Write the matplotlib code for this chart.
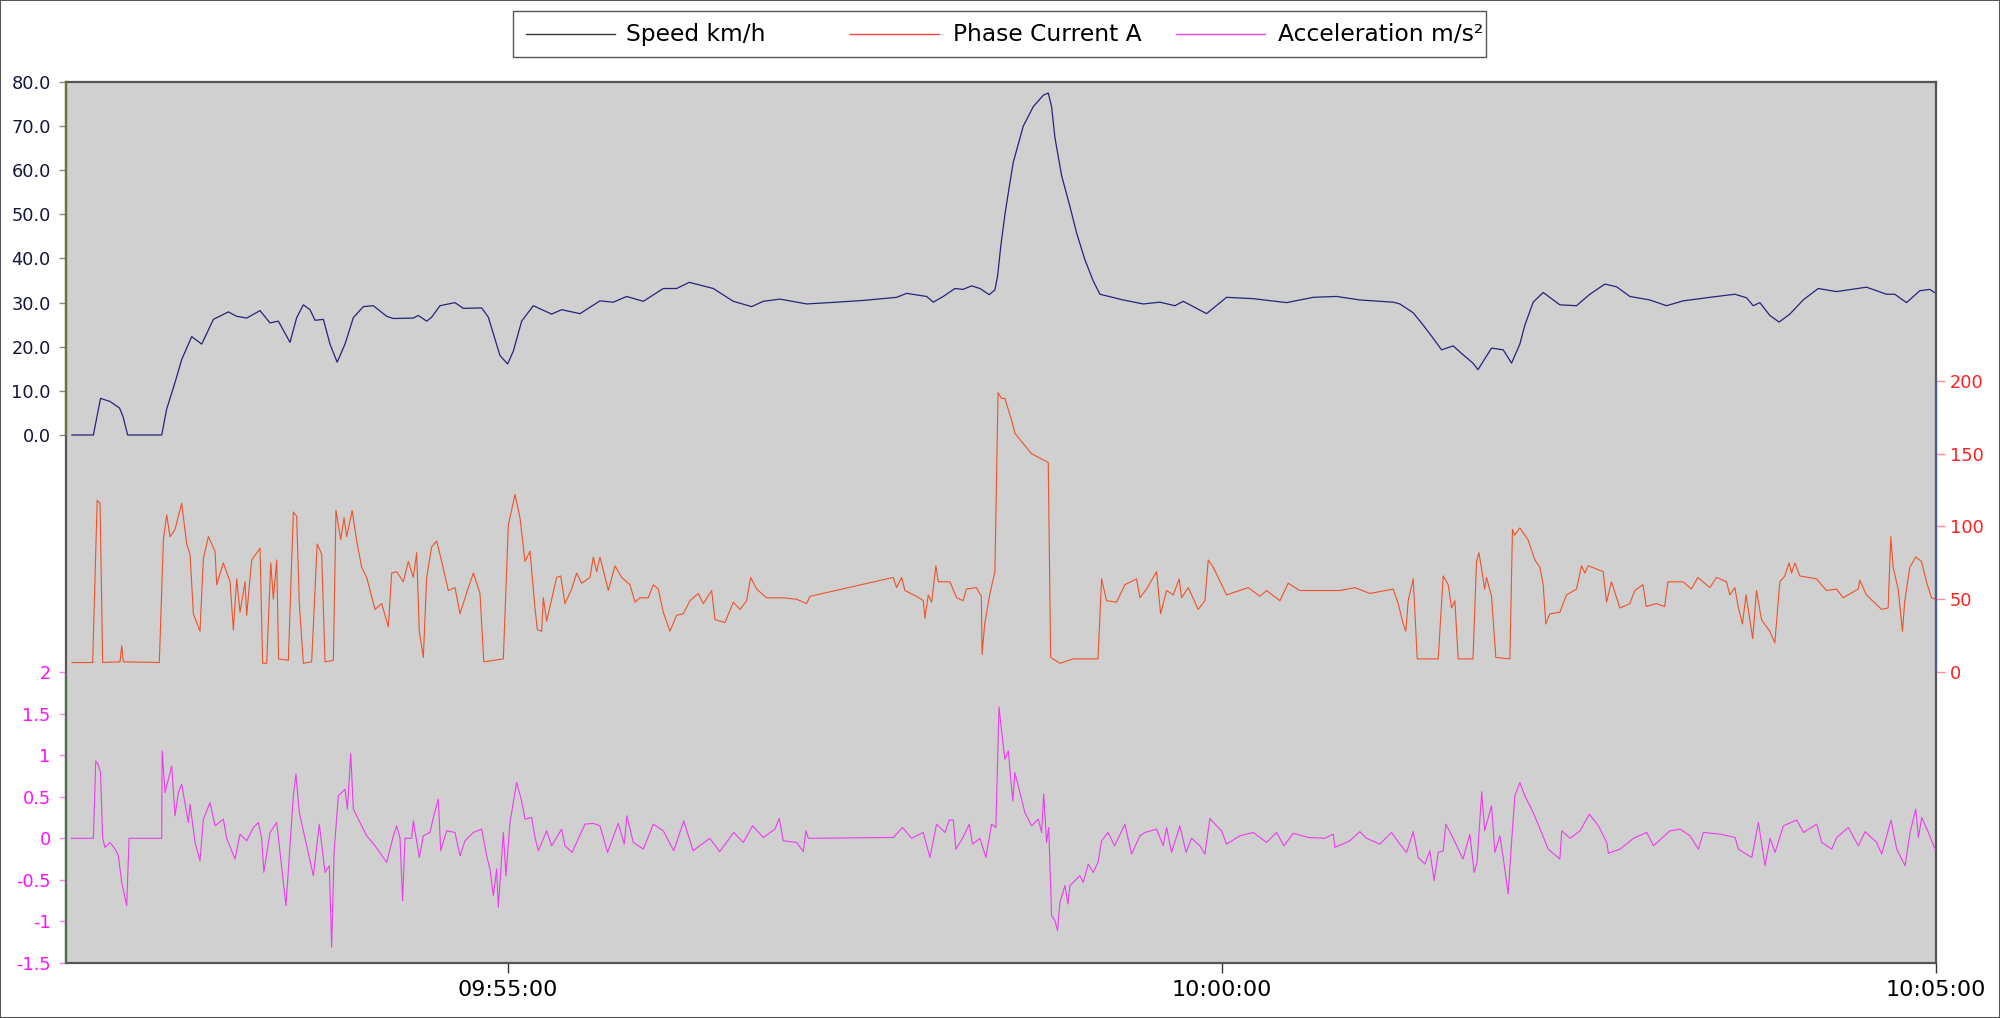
import matplotlib
matplotlib.use('Agg')
import matplotlib.pyplot as plt
import matplotlib.dates as mdates
import matplotlib.transforms as mtrans
from matplotlib.lines import Line2D
from matplotlib.patches import Rectangle
from matplotlib.ticker import FixedLocator, FuncFormatter
from datetime import datetime, timedelta

# ---------------- data (time = seconds relative to 09:55:00) ----------------
BASE_TIME = datetime(2024, 1, 1, 9, 55, 0)
x_start_s = -185.5
x_end_s = 600.0
time_ticks = ["09:55:00", "10:00:00", "10:05:00"]

speed_t = [-183, -174, -171, -167, -163, -161.5, -159.6, -145.3, -143.2, -139.7, -136.9, -132.7,
           -128.5, -123.6, -117.3, -113.8, -109.6, -104, -99.8, -96.3, -91.4, -88.6, -85.8, -83,
           -80.9, -77.4, -74.6, -71.6, -68.3, -64.8, -60.6, -56.4, -50.8, -48, -39.6, -37.5, -34,
           -31.9, -28.4, -22.1, -18.6, -10.9, -8.1, -3.2, 0, 2.4, 5.9, 10.8, 18.5, 22.7, 30.4,
           38.8, 44.4, 50, 57, 65.4, 71, 76.3, 86.4, 94.8, 102.5, 107.4, 114.4, 125.6, 138.2,
           149.4, 163.4, 167.6, 176, 178.8, 183, 187.9, 191.3, 194.9, 198.4, 202.3, 204.7,
           205.8, 207.2, 208.9, 210.5, 212.4, 216.6, 220.8, 225, 227.1, 228.5, 229.9, 232.7,
           236.2, 239, 242.5, 246, 248.8, 258.6, 267, 274, 280.3, 283.8, 293.6, 302, 313.2,
           327.2, 338.4, 348.2, 358, 372, 374.8, 380.4, 384.6, 388.8, 392.3, 397.2, 401.3,
           405.5, 407.6, 413.3, 418.2, 421.7, 425.2, 427.3, 430.8, 435, 442, 449, 454.6, 460.9,
           465.8, 471.4, 479.8, 486.8, 493.8, 505, 515.5, 520.4, 523.2, 526, 530.2, 534.1,
           538.6, 544.2, 550.5, 558.2, 570.8, 579.2, 582.7, 587.6, 593.2, 597.4, 599.9]
speed_kmh = [0, 0, 8.3, 7.6, 6.1, 4.1, 0, 0, 5.9, 11.9, 17.1, 22.3,
             20.6, 26.2, 27.9, 26.9, 26.5, 28.2, 25.4, 25.8, 21.0, 26.6, 29.5, 28.4,
             26.0, 26.2, 20.6, 16.5, 20.6, 26.6, 29.1, 29.3, 26.9, 26.4, 26.5, 27.1, 25.8,
             26.7, 29.3, 30.0, 28.7, 28.8, 26.7, 18.0, 16.1, 19.0, 25.8, 29.3, 27.4, 28.4, 27.5,
             30.4, 30.1, 31.4, 30.3, 33.2, 33.2, 34.6, 33.2, 30.3, 29.1, 30.3, 30.8, 29.7, 30.1,
             30.5, 31.2, 32.1, 31.4, 30.1, 31.4, 33.2, 33.0, 33.8, 33.2, 31.8, 32.9,
             36.0, 43.0, 50.0, 55.5, 61.8, 70.0, 74.4, 77.0, 77.5, 74.4, 67.4, 58.8,
             51.8, 45.8, 39.7, 34.9, 31.9, 30.6, 29.7, 30.1, 29.3, 30.3, 27.5, 31.2, 30.9,
             30.0, 31.2, 31.4, 30.6, 30.1, 29.7, 27.7, 24.9, 21.9, 19.3, 20.2, 18.2,
             16.3, 14.8, 19.7, 19.3, 16.3, 20.6, 24.9, 30.1, 32.3, 29.5, 29.3, 31.9, 34.2,
             33.6, 31.4, 30.6, 29.3, 30.4, 31.2, 31.9, 31.1, 29.3, 30.0, 27.1, 25.6,
             27.4, 30.6, 33.2, 32.5, 33.5, 31.9, 31.9, 30.0, 32.7, 33.0, 32.1]

current_t = [-183, -174.3, -172.4, -171.2, -170.1, -162.8, -162.1, -161.4, -146.3, -144.6, -143.2,
             -141.8, -139.7, -136.9, -134.8, -133.4, -132, -129.2, -127.8, -125.7, -122.9, -122.2,
             -119.4, -116.6, -115.2, -113.8, -112.4, -110.3, -109.6, -107.5, -104, -102.9, -101.2,
             -99.5, -98.4, -97, -96.2, -92.1, -90, -88.6, -87.5, -85.8, -82.3, -80, -78.1, -76.7,
             -73.2, -72.1, -70.1, -68.7, -67.6, -65.3, -63.4, -61.3, -59.2, -55.7, -52.9, -50.1,
             -48.7, -46.6, -43.8, -41.7, -39.6, -38.2, -37.1, -35.4, -34, -31.9, -29.8, -27.7,
             -24.9, -22.1, -20, -16.5, -14.4, -11.6, -10, -1.8, 0.3, 3.1, 5.2, 7.3, 9.4, 11.5,
             12.5, 14.3, 15, 16.4, 20.6, 22.3, 24.1, 26.9, 29, 31.1, 34.6, 36, 37.4, 38.8, 42.3,
             45.1, 47.9, 51.4, 53.5, 55.6, 59.1, 61.2, 63.3, 65.4, 68.2, 71, 73.8, 76.6, 80.1,
             82.2, 85.7, 87.1, 91.3, 94.8, 97.6, 100.4, 102.1, 104.6, 108.8, 115.8, 121.4, 125.6,
             127, 162, 163.4, 165.5, 166.9, 171.8, 174.6, 175.3, 176.7, 178.1, 179.9, 180.9,
             185.8, 188.6, 191.3, 192.7, 196.9, 199, 199.3, 200.4, 202.6, 204.7, 206, 207.5,
             208.9, 211.7, 213.1, 216.6, 220.1, 223.6, 227.1, 228.1, 232, 237.6, 248, 249.5,
             251.6, 255.8, 259.3, 264.2, 265.6, 268.4, 272.6, 274.3, 276.8, 279.6, 282.1, 283.1,
             285.9, 290.1, 292.9, 294.3, 296.4, 302, 311.1, 316, 318.8, 324.4, 327.9, 332.8,
             341.2, 349.6, 355.9, 362.2, 372, 374.1, 376.2, 377.3, 378.3, 380.4, 382.1, 390.9,
             393, 395.1, 396.5, 397.9, 399.3, 405.5, 407, 408, 409.7, 410.4, 411.2, 413.3, 415.1,
             421, 422.1, 423, 425.2, 428.6, 431.5, 433.6, 435, 436.1, 437.8, 442, 444.8, 449,
             451.1, 452.5, 453.9, 460.2, 461.6, 463.7, 467.2, 471.4, 473.5, 476.9, 478.3, 482.5,
             486, 487.4, 493.8, 497.2, 500, 505, 507.8, 512, 513.4, 515.5, 516.9, 518.7, 520.2,
             523, 524.6, 526.7, 530.2, 532.3, 534.4, 536.5, 538.3, 539.3, 540.7, 542.8, 549.8,
             554, 558.2, 561, 567.3, 568, 570.8, 577.1, 579.9, 581, 582, 584.1, 585.9, 586.9,
             589, 591.5, 593.9, 596, 598.1, 599.9]
current_a = [6.5, 6.5, 118, 116, 6.5, 7, 18, 7, 6.5, 91, 108,
             93, 98, 116, 88, 81, 40, 28, 78, 93, 83, 60,
             75, 62, 29, 64, 41, 62, 39, 77, 85, 6, 6,
             75, 50, 77, 9, 8, 110, 107, 47, 6, 7, 88, 81, 7,
             8, 111, 91, 106, 93, 111, 90, 72, 65, 43, 47, 31,
             68, 69, 62, 76, 65, 82, 28, 10, 65, 86, 90, 76,
             56, 58, 40, 58, 68, 54, 7, 9, 101, 122, 106, 76, 83, 44,
             29, 28, 51, 35, 65, 66, 47, 57, 68, 61, 65, 79, 69, 79, 56,
             73, 65, 60, 48, 51, 51, 60, 57, 41, 28, 39, 40, 49, 54,
             47, 56, 36, 34, 48, 43, 49, 65, 57, 51, 51, 50, 47,
             52, 65, 58, 65, 56, 52, 49, 37, 53, 48, 73, 62,
             62, 51, 49, 57, 58, 52, 12, 33, 54, 69, 192, 188,
             188, 173, 164, 157, 150, 147, 144, 10, 6, 9, 9, 64,
             49, 48, 60, 64, 51, 57, 69, 40, 56, 53, 64, 51,
             58, 43, 49, 77, 72, 53, 58, 52, 56, 49, 61, 56,
             56, 56, 58, 54, 57, 47, 33, 28, 49, 64, 9, 9,
             66, 60, 44, 49, 9, 9, 76, 82, 65, 57, 65, 52, 10,
             9, 98, 94, 99, 91, 77, 72, 60, 33, 40, 41, 53, 57,
             73, 68, 73, 69, 48, 62, 44, 47, 56, 60, 45, 47,
             45, 62, 62, 57, 65, 58, 65, 62, 53, 58, 45, 33, 53,
             23, 56, 36, 28, 20, 62, 66, 75, 68, 75, 66, 64,
             56, 57, 51, 57, 63, 53, 43, 44, 93, 72, 57, 28, 49,
             72, 79, 76, 62, 51, 50]

accel_t = [-183.3, -174, -173, -172, -171, -170.1, -169.1, -167, -164.9, -163.5, -162.1, -160, -159,
           -145.3, -145.1, -143.9, -142.5, -141.1, -139.7, -138.3, -136.9, -134.1, -133.4, -131.3,
           -129.2, -127.8, -125, -122.9, -119.4, -118, -114.5, -112.4, -109.6, -106.8, -104.7,
           -103.3, -102.4, -99.8, -97, -95.6, -93.1, -91.4, -90, -88.9, -87.5, -85.1, -81.6,
           -79.1, -76.7, -74.9, -73.9, -72.9, -71.1, -68.3, -67.3, -65.9, -64.8, -62, -59.2,
           -55.7, -50.8, -48, -46.6, -45.2, -44.1, -43.1, -40.3, -39.6, -37.1, -35.4, -32.6,
           -31.2, -29.1, -28.1, -25.6, -22.1, -20, -17.9, -14.4, -10.9, -8.8, -7.4, -6, -4.6,
           -3.9, -1.8, -0.7, 1, 3.8, 5.9, 7.3, 10.1, 11.5, 12.9, 16.4, 18.5, 22.7, 24.1, 27.1,
           32.5, 36, 38.8, 42, 46.5, 49, 50.1, 52.8, 57, 61.2, 65.4, 69.8, 74, 77.9, 84.9, 89.1,
           95, 99, 102.9, 107.4, 112.3, 114.1, 115.8, 121.4, 124.2, 125.3, 126.3, 162, 165.9,
           169.7, 174.6, 177.4, 180.2, 183.7, 185.5, 187.2, 188.3, 191.3, 193.9, 195.3, 198.4,
           200.9, 203.3, 205.1, 206.4, 207.5, 208.9, 210.3, 212.2, 213.1, 215.2, 217.3, 220.1,
           222.9, 224.3, 225.2, 226.4, 227.3, 228.5, 229.9, 231, 232, 234.1, 235.4, 236.2,
           240.4, 241.8, 243.9, 246, 248, 249.5, 252.2, 255, 259.3, 262.1, 265.6, 267.7, 272.6,
           275.4, 276.8, 278.9, 282.4, 285, 287.3, 290.8, 292.9, 295, 297.8, 299.9, 302, 307.6,
           313.2, 318.8, 323, 326.1, 330, 336.3, 343.3, 346.8, 347.5, 353.8, 358, 360.8, 366.4,
           371.3, 374.8, 377.6, 380.4, 382.5, 385.3, 387.4, 389.2, 390.9, 393, 394.1, 397.2,
           401.3, 404.2, 406, 407.2, 409.2, 410.4, 413.3, 414.7, 416.8, 418.2, 420.3, 421.7,
           423.1, 425.2, 427.3, 430.8, 434.3, 437.1, 442, 442.8, 446.3, 450.5, 454.4, 458.2,
           461.7, 462.4, 467.3, 472.9, 478.5, 481.3, 488.3, 492.5, 496.7, 500.2, 502.3, 509.3,
           515.6, 517, 522.6, 525.4, 528.2, 530.3, 532.4, 535.9, 541.5, 544.3, 549.9, 552,
           556.2, 558.3, 563.2, 567.4, 570.2, 575.1, 577.2, 581.1, 583.5, 587, 589.1, 591.5,
           592.6, 594, 596.8, 599.6]
accel_ms2 = [0, 0, 0.93, 0.89, 0.79, 0, -0.11, -0.05, -0.13, -0.21, -0.53, -0.81, 0,
             0, 1.05, 0.55, 0.71, 0.87, 0.27, 0.55, 0.65, 0.19, 0.41, -0.05,
             -0.27, 0.23, 0.43, 0.15, 0.23, 0, -0.25, 0.05, -0.03, 0.13, 0.19,
             0, -0.41, 0.07, 0.19, -0.17, -0.81, -0.09, 0.51, 0.77, 0.31, 0, -0.45,
             0.17, -0.41, -0.33, -1.31, -0.17, 0.51, 0.59, 0.35, 1.02, 0.35, 0.19, 0.03,
             -0.09, -0.29, 0.03, 0.15, 0, -0.75, 0, 0, 0.21, -0.23, 0.03, 0.07,
             0.25, 0.47, -0.15, 0.09, 0.07, -0.21, -0.03, 0.07, 0.11, -0.21, -0.37, -0.69, -0.37,
             -0.83, 0.07, -0.45, 0.19, 0.67, 0.45, 0.23, 0.25, 0.01, -0.15, 0.09, -0.09, 0.11, -0.09, -0.17,
             0.17, 0.18, 0.15, -0.17, 0.18, -0.07, 0.27, -0.05, -0.13, 0.17, 0.09, -0.15, 0.21, -0.15, 0, -0.16,
             0.07, -0.05, 0.15, 0.01, 0.11, 0.24, -0.03, -0.05, -0.16, 0.09, 0, 0.01, 0.13,
             0, 0.07, -0.23, 0.17, 0.07, 0.22, 0.22, -0.13, 0.01, 0.17, -0.07, 0,
             -0.23, 0.17, 0.13, 1.58, 1.29, 0.95, 1.05, 0.45, 0.79, 0.55, 0.31, 0.15,
             0.23, 0.07, 0.53, -0.05, 0.13, -0.93, -0.99, -1.11, -0.77, -0.57, -0.79, -0.57,
             -0.45, -0.53, -0.31, -0.41, -0.29, -0.03, 0.07, -0.09, 0.17, -0.19, 0.03, 0.07, 0.11,
             -0.09, 0.13, -0.17, 0.15, -0.17, 0, -0.09, -0.19, 0.24, 0.15, 0.09, -0.07, 0.03,
             0.07, -0.05, 0.07, -0.09, 0.06, 0.01, 0, 0.05, -0.11, -0.03, 0.08, 0, -0.07,
             0.07, -0.07, -0.17, 0.08, -0.23, -0.31, -0.15, -0.51, -0.17, -0.15, 0.17, 0,
             -0.25, 0.05, -0.41, -0.29, 0.56, 0.09, 0.39, -0.17, 0.03, -0.23, -0.67, -0.05,
             0.51, 0.67, 0.51, 0.31, 0.07, -0.13, -0.25, 0.09, 0, 0.09, 0.29, 0.15,
             -0.05, -0.18, -0.13, 0, 0.07, -0.09, 0.09, 0.11, 0.03, -0.13, 0.07, 0.05,
             0.01, -0.13, -0.23, 0.19, -0.33, 0, -0.17, 0.15, 0.22, 0.07, 0.17, -0.05,
             -0.13, 0.01, 0.13, -0.09, 0.08, -0.05, -0.19, 0.22, -0.13, -0.33, 0.07, 0.35,
             0.01, 0.25, 0.07, -0.13]

speed_ticks = [0, 10, 20, 30, 40, 50, 60, 70, 80]
current_ticks = [0, 50, 100, 150, 200]
accel_ticks = [-1.5, -1, -0.5, 0, 0.5, 1, 1.5, 2]
legend_labels = ["Speed km/h", "Phase Current A", "Acceleration m/s²"]


def to_dt(secs):
    return [BASE_TIME + timedelta(seconds=float(s)) for s in secs]


# ---------------- styling ----------------
C_SPEED = '#24247a'
C_CURR = '#f0522a'
C_ACC = '#ee3cee'

fig = plt.figure(figsize=(20, 10.18), dpi=100)
fig.patch.set_facecolor('white')

ax = fig.add_axes([0.033, 0.05403, 0.935, 0.86542])
ax.set_facecolor('#d0d0d0')
ax2 = ax.twinx()
ax3 = ax.twinx()

ax.plot(to_dt(speed_t), speed_kmh, color=C_SPEED, lw=0.9)
ax2.plot(to_dt(current_t), current_a, color=C_CURR, lw=0.8)
ax3.plot(to_dt(accel_t), accel_ms2, color=C_ACC, lw=0.8)

ax.set_xlim(mdates.date2num(BASE_TIME + timedelta(seconds=x_start_s)),
            mdates.date2num(BASE_TIME + timedelta(seconds=x_end_s)))
ax.set_ylim(-119.66, 80)
ax2.set_ylim(-200, 405.5)
ax3.set_ylim(-1.5, 9.097)

tick_dts = [datetime.combine(BASE_TIME.date(), datetime.strptime(s, "%H:%M:%S").time())
            for s in time_ticks]
ax.xaxis.set_major_locator(FixedLocator(mdates.date2num(tick_dts)))
ax.xaxis.set_major_formatter(mdates.DateFormatter('%H:%M:%S'))
ax.tick_params(axis='x', direction='out', length=7, width=1, color='#333333',
               labelsize=16, pad=5, labelcolor='black')

ax.yaxis.set_major_locator(FixedLocator(speed_ticks))
ax.yaxis.set_major_formatter(FuncFormatter(lambda v, p: f"{v:.1f}"))
ax.tick_params(axis='y', direction='out', length=5, width=1, color='#8a8a8a',
               labelcolor='#16163c', labelsize=12.8, pad=6)

ax2.yaxis.set_major_locator(FixedLocator(current_ticks))
ax2.yaxis.set_major_formatter(FuncFormatter(lambda v, p: f"{v:g}"))
ax2.tick_params(axis='y', direction='out', length=6.5, width=1, color='#ff8c8c',
                labelcolor='#ff2020', labelsize=12.8, pad=3.5)

ax3.yaxis.set_ticks_position('left')
ax3.yaxis.set_label_position('left')
ax3.yaxis.set_major_locator(FixedLocator(accel_ticks))
ax3.yaxis.set_major_formatter(FuncFormatter(lambda v, p: f"{v:g}"))
ax3.tick_params(axis='y', direction='out', length=5, width=1, color='#ff80ff',
                labelcolor='#ff10ff', labelsize=12.8, pad=6,
                left=True, right=False, labelleft=True, labelright=False)

for a in (ax2, ax3):
    for sp in a.spines.values():
        sp.set_visible(False)
for sp in ax.spines.values():
    sp.set_color('#555555')
    sp.set_linewidth(1.6)

# coloured axis-line segments over each scale's range
tr_speed = mtrans.blended_transform_factory(ax.transAxes, ax.transData)
tr_curr = mtrans.blended_transform_factory(ax2.transAxes, ax2.transData)
tr_acc = mtrans.blended_transform_factory(ax3.transAxes, ax3.transData)
ax.add_line(Line2D([0, 0], [speed_ticks[0], speed_ticks[-1]], transform=tr_speed,
                   color='#6e6e3e', lw=1.6, clip_on=False, zorder=6))
ax3.add_line(Line2D([0, 0], [accel_ticks[0], accel_ticks[-1]], transform=tr_acc,
                    color='#4e6e4e', lw=1.6, clip_on=False, zorder=6))
ax2.add_line(Line2D([1, 1], [current_ticks[0], current_ticks[-1]], transform=tr_curr,
                    color='#4a5a9c', lw=1.6, clip_on=False, zorder=6))

# ---------------- legend (fixed-width entries, top centre) ----------------
fig.add_artist(Rectangle((0.2565, 0.9440), 0.4865, 0.0452, transform=fig.transFigure,
                         facecolor='white', edgecolor='#555555', lw=1.0))
leg_colors = ['#383838', '#ff4040', '#ff44ff']
leg_line_x = [(0.2628, 0.3074), (0.4248, 0.4694), (0.5880, 0.6326)]
leg_text_x = [0.3132, 0.4764, 0.6390]
ly = 0.9662
for lab, col, (x0, x1), tx in zip(legend_labels, leg_colors, leg_line_x, leg_text_x):
    fig.add_artist(Line2D([x0, x1], [ly, ly], transform=fig.transFigure, color=col, lw=1.0))
    fig.text(tx, ly, lab, ha='left', va='center', fontsize=16.8, color='black')

# thin outer border of the image
fig.add_artist(Rectangle((0, 0), 1, 1, transform=fig.transFigure, fill=False,
                         edgecolor='#555555', lw=1.5))

fig.savefig('out.png', dpi=100, facecolor='white')
